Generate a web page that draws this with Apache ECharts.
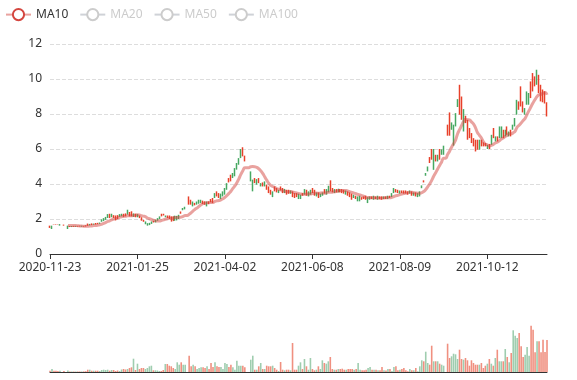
<!DOCTYPE html>
<html>
<head>
<meta charset="utf-8">
<script src="https://cdn.jsdelivr.net/npm/echarts@6/dist/echarts.min.js"></script>
<style>html,body{margin:0;padding:0;background:#fff;}#main{width:577px;height:380px;}</style>
</head>
<body>
<div id="main"></div>
<script>
// ---- DATA ----
const dates = [
'2020-11-23','2020-11-24','2020-11-25','2020-11-26','2020-11-27','2020-11-30',
'2020-12-01','2020-12-02','2020-12-03','2020-12-04','2020-12-07','2020-12-08','2020-12-09','2020-12-10','2020-12-11','2020-12-14','2020-12-15','2020-12-16','2020-12-17','2020-12-18','2020-12-21','2020-12-22','2020-12-23','2020-12-24','2020-12-25','2020-12-28','2020-12-29','2020-12-30','2020-12-31',
'2021-01-04','2021-01-05','2021-01-06','2021-01-07','2021-01-08','2021-01-11','2021-01-12','2021-01-13','2021-01-14','2021-01-15','2021-01-18','2021-01-19','2021-01-20','2021-01-21','2021-01-22','2021-01-25','2021-01-26','2021-01-27','2021-01-28','2021-01-29',
'2021-02-01','2021-02-02','2021-02-03','2021-02-04','2021-02-05','2021-02-08','2021-02-09','2021-02-10','2021-02-18','2021-02-19','2021-02-22','2021-02-23','2021-02-24','2021-02-25','2021-02-26',
'2021-03-01','2021-03-02','2021-03-03','2021-03-04','2021-03-05','2021-03-08','2021-03-09','2021-03-10','2021-03-11','2021-03-12','2021-03-15','2021-03-16','2021-03-17','2021-03-18','2021-03-19','2021-03-22','2021-03-23','2021-03-24','2021-03-25','2021-03-26','2021-03-29','2021-03-30','2021-03-31',
'2021-04-01','2021-04-02','2021-04-05','2021-04-06','2021-04-07','2021-04-08','2021-04-09','2021-04-12','2021-04-13','2021-04-14','2021-04-15','2021-04-16','2021-04-19','2021-04-20','2021-04-21','2021-04-22','2021-04-23','2021-04-26','2021-04-27','2021-04-28','2021-04-29','2021-04-30',
'2021-05-06','2021-05-07','2021-05-10','2021-05-11','2021-05-12','2021-05-13','2021-05-14','2021-05-17','2021-05-18','2021-05-19','2021-05-20','2021-05-21','2021-05-24','2021-05-25','2021-05-26','2021-05-27','2021-05-28','2021-05-31',
'2021-06-01','2021-06-02','2021-06-03','2021-06-04','2021-06-07','2021-06-08','2021-06-09','2021-06-10','2021-06-11','2021-06-14','2021-06-15','2021-06-16','2021-06-17','2021-06-18','2021-06-21','2021-06-22','2021-06-23','2021-06-24','2021-06-25','2021-06-28','2021-06-29','2021-06-30',
'2021-07-01','2021-07-02','2021-07-05','2021-07-06','2021-07-07','2021-07-08','2021-07-09','2021-07-12','2021-07-13','2021-07-14','2021-07-15','2021-07-16','2021-07-19','2021-07-20','2021-07-21','2021-07-22','2021-07-23','2021-07-26','2021-07-27','2021-07-28','2021-07-29','2021-07-30',
'2021-08-02','2021-08-03','2021-08-04','2021-08-05','2021-08-06','2021-08-09','2021-08-10','2021-08-11','2021-08-12','2021-08-13','2021-08-16','2021-08-17','2021-08-18','2021-08-19','2021-08-20','2021-08-23','2021-08-24','2021-08-25','2021-08-26','2021-08-27','2021-08-30','2021-08-31',
'2021-09-01','2021-09-02','2021-09-03','2021-09-06','2021-09-07','2021-09-08','2021-09-09','2021-09-10','2021-09-13','2021-09-14','2021-09-15','2021-09-16','2021-09-17','2021-09-22','2021-09-23','2021-09-24','2021-09-27','2021-09-28','2021-09-29','2021-09-30',
'2021-10-01','2021-10-04','2021-10-05','2021-10-06','2021-10-07','2021-10-08','2021-10-11','2021-10-12','2021-10-13','2021-10-14','2021-10-15','2021-10-18','2021-10-19','2021-10-20','2021-10-21','2021-10-22','2021-10-25','2021-10-26','2021-10-27','2021-10-28','2021-10-29',
'2021-11-01','2021-11-02','2021-11-03','2021-11-04','2021-11-05','2021-11-08','2021-11-09','2021-11-10','2021-11-11','2021-11-12','2021-11-15','2021-11-16','2021-11-17','2021-11-18','2021-11-19','2021-11-22','2021-11-23'
];

// rows: [close, open, low, high]; null = no candle
const prices = [
[1.52,1.60,1.49,1.62],[1.60,1.47,1.43,1.62],[1.67,1.69,1.67,1.69],[1.68,1.70,1.67,1.70],[1.68,1.70,1.68,1.70],
[1.70,1.64,1.62,1.71],null,[1.63,1.67,1.62,1.68],null,[1.60,1.50,1.43,1.62],
[1.55,1.59,1.54,1.60],[1.59,1.56,1.54,1.60],[1.56,1.60,1.55,1.61],[1.60,1.57,1.55,1.61],[1.57,1.60,1.56,1.61],
[1.58,1.61,1.57,1.62],[1.61,1.58,1.56,1.62],[1.57,1.60,1.56,1.61],[1.58,1.63,1.57,1.64],[1.62,1.70,1.61,1.74],
[1.70,1.65,1.63,1.72],[1.66,1.72,1.65,1.75],[1.72,1.69,1.67,1.74],[1.69,1.74,1.68,1.77],[1.72,1.76,1.70,1.78],
[1.78,1.74,1.72,1.80],[1.95,1.86,1.84,1.98],[2.02,1.92,1.88,2.05],[2.08,1.98,1.95,2.12],[2.25,2.10,2.06,2.28],
[2.08,2.25,2.05,2.30],[2.28,2.14,2.10,2.30],[2.10,2.18,2.06,2.22],[1.95,2.15,1.92,2.20],[2.05,2.18,2.00,2.22],
[2.25,2.15,2.12,2.28],[2.28,2.18,2.15,2.30],[2.15,2.26,2.12,2.30],[2.18,2.28,2.15,2.32],[2.48,2.30,2.25,2.53],
[2.20,2.35,2.15,2.40],[2.20,2.38,2.15,2.44],[2.30,2.18,2.12,2.32],[2.15,2.25,2.10,2.30],[2.26,2.16,2.10,2.28],
[2.08,2.16,2.05,2.20],[1.94,2.06,1.90,2.10],[1.86,1.92,1.84,1.95],[1.84,1.74,1.70,1.86],[1.74,1.66,1.62,1.76],
[1.76,1.68,1.65,1.78],[1.84,1.76,1.72,1.86],[1.82,1.88,1.80,1.90],[1.93,1.84,1.80,1.95],[2.03,1.93,1.90,2.05],
[2.13,2.03,2.00,2.15],[2.18,2.26,2.15,2.30],[2.22,2.27,2.20,2.30],[2.18,2.12,2.10,2.20],[2.08,2.16,2.05,2.20],
[2.03,2.15,2.00,2.20],[1.88,2.10,1.85,2.15],[1.92,2.10,1.88,2.15],[2.15,1.95,1.90,2.19],[2.12,1.98,1.92,2.18],
[2.20,2.04,2.00,2.24],[2.31,2.40,2.30,2.43],[2.62,2.52,2.50,2.63],[2.68,2.58,2.55,2.70],null,
[2.85,3.20,2.82,3.29],[2.85,3.05,2.82,3.10],[2.95,2.78,2.72,3.00],[2.82,2.90,2.78,2.92],[2.95,2.86,2.82,3.00],
[3.05,2.92,2.87,3.10],[3.05,2.96,2.91,3.10],[2.92,3.02,2.85,3.05],[2.88,2.98,2.82,3.01],[2.98,2.85,2.72,3.00],
[2.86,2.96,2.85,3.01],[2.95,3.08,2.95,3.14],[2.95,3.14,2.91,3.20],[3.45,3.25,3.20,3.48],[3.32,3.52,3.29,3.58],
[3.22,3.42,3.20,3.48],[3.42,3.22,3.14,3.45],[3.52,3.33,3.29,3.58],[3.72,3.45,3.39,3.77],[4.00,3.72,3.67,4.05],
[4.10,4.30,4.09,4.34],[4.18,4.48,4.15,4.53],[4.60,4.38,4.34,4.63],[4.85,4.50,4.44,4.91],[5.15,4.86,4.82,5.20],
[5.42,5.14,5.10,5.48],[5.95,5.52,5.48,6.00],[5.65,6.05,5.58,6.10],[5.32,5.55,5.29,5.62],null,
null,[4.65,4.22,4.15,4.72],[4.20,3.65,3.58,4.25],[4.05,4.25,4.05,4.34],[4.25,4.00,3.96,4.28],
[4.08,4.30,4.05,4.34],[4.02,3.90,3.86,4.05],[3.90,4.02,3.86,4.09],[4.05,3.90,3.86,4.15],[3.72,3.90,3.67,3.96],
[3.55,3.80,3.48,3.86],[3.40,3.62,3.39,3.67],[3.55,3.30,3.25,3.58],[3.62,3.80,3.58,3.86],[3.55,3.70,3.52,3.77],
[3.66,3.52,3.48,3.67],[3.65,3.80,3.63,3.86],[3.50,3.70,3.48,3.77],[3.70,3.55,3.48,3.72],[3.40,3.58,3.39,3.67],
[3.48,3.62,3.44,3.67],[3.62,3.48,3.44,3.63],[3.30,3.48,3.25,3.58],[3.25,3.40,3.20,3.48],[3.30,3.42,3.25,3.48],
[3.42,3.18,3.14,3.45],[3.38,3.20,3.14,3.39],[3.35,3.45,3.33,3.48],[3.68,3.45,3.39,3.71],[3.42,3.62,3.33,3.67],
[3.55,3.38,3.29,3.58],[3.65,3.45,3.39,3.67],[3.55,3.72,3.48,3.77],[3.40,3.62,3.33,3.67],[3.50,3.32,3.29,3.52],
[3.25,3.45,3.20,3.52],[3.45,3.32,3.25,3.45],[3.50,3.38,3.33,3.52],[3.50,3.68,3.45,3.71],[3.65,3.45,3.39,3.71],
[3.85,3.60,3.52,3.90],[3.62,3.90,3.58,4.21],[3.58,3.70,3.52,3.77],[3.70,3.55,3.48,3.71],[3.58,3.68,3.52,3.71],
[3.72,3.58,3.52,3.73],[3.58,3.68,3.52,3.71],[3.55,3.68,3.48,3.71],[3.50,3.65,3.45,3.67],[3.62,3.48,3.39,3.63],
[3.40,3.55,3.33,3.58],[3.30,3.48,3.25,3.52],[3.18,3.40,3.10,3.45],[3.38,3.22,3.20,3.39],[3.20,3.30,3.14,3.33],
[3.28,3.08,3.01,3.29],[3.30,3.08,3.01,3.33],[3.12,3.22,3.10,3.25],[3.14,3.25,3.14,3.29],[3.12,3.25,3.10,3.33],
[3.22,3.00,2.91,3.25],[3.28,3.12,3.10,3.29],[3.14,3.25,3.14,3.29],[3.30,3.15,3.10,3.33],[3.14,3.25,3.14,3.29],
[3.30,3.15,3.10,3.33],[3.15,3.25,3.14,3.29],[3.14,3.25,3.10,3.29],[3.27,3.16,3.14,3.29],[3.16,3.26,3.14,3.29],
[3.30,3.18,3.14,3.33],[3.20,3.30,3.20,3.33],[3.45,3.28,3.25,3.48],[3.75,3.55,3.48,3.77],[3.55,3.68,3.52,3.71],
[3.52,3.62,3.48,3.67],[3.62,3.48,3.45,3.63],[3.50,3.60,3.48,3.63],[3.48,3.60,3.45,3.63],[3.48,3.60,3.45,3.63],
[3.40,3.55,3.39,3.58],[3.60,3.48,3.45,3.63],[3.40,3.55,3.33,3.58],[3.50,3.40,3.33,3.52],[3.35,3.48,3.29,3.52],
[3.45,3.30,3.25,3.48],[3.50,3.30,3.29,3.58],[3.90,3.80,3.76,3.92],[4.10,4.18,4.09,4.21],[4.62,4.50,4.47,4.63],
[4.98,4.78,4.72,5.00],[5.22,5.50,5.20,5.54],[5.42,5.95,5.39,6.00],[5.90,4.95,4.81,6.00],[5.32,5.62,5.29,5.67],
[5.65,5.38,5.29,5.67],[5.45,5.95,5.39,6.00],[5.95,5.70,5.67,5.98],[6.15,5.75,5.67,6.19],null,
[6.80,7.30,6.76,7.39],[6.90,7.90,6.76,8.09],[7.50,7.20,7.10,7.52],[7.35,6.30,6.19,7.39],[8.00,7.40,7.29,8.05],
[8.82,8.45,8.40,8.85],[8.10,9.50,7.96,9.67],[7.75,8.85,7.67,9.00],[8.25,7.10,7.00,8.28],[7.50,7.85,7.48,7.90],
[6.60,7.50,6.53,7.67],[6.75,7.05,6.62,7.20],[6.40,6.80,6.34,6.91],[6.20,6.55,6.15,6.62],[5.90,6.40,5.86,6.53],
[6.00,6.40,5.96,6.53],[6.50,6.05,5.96,6.53],[6.15,6.45,6.15,6.53],[6.15,6.35,6.15,6.38],[6.15,6.30,6.15,6.34],
[6.22,6.04,6.00,6.24],[6.05,6.25,6.00,6.29],[6.78,6.30,6.24,6.81],[6.70,7.10,6.62,7.20],[6.72,6.45,6.43,6.72],
[6.45,6.70,6.43,6.72],[7.25,6.70,6.62,7.29],[7.25,6.70,6.62,7.29],[6.70,7.00,6.62,7.10],[7.05,6.72,6.72,7.10],
[6.82,7.20,6.81,7.29],[6.98,6.75,6.72,7.00],[6.75,7.00,6.72,7.10],[7.30,7.12,7.10,7.39],[7.70,7.35,7.29,7.77],
[8.75,8.05,7.96,8.81],[8.25,8.55,8.24,8.72],[8.55,9.40,8.43,9.58],[8.10,8.60,8.09,8.72],[8.30,8.00,7.96,8.34],
[9.20,8.60,8.53,9.29],[9.15,8.60,8.53,9.20],[9.00,9.70,8.91,9.86],[9.40,10.20,9.29,10.34],[9.60,10.05,9.58,10.15],
[10.45,9.75,9.67,10.53],[9.30,10.10,9.20,10.24],[8.80,9.55,8.72,9.67],[8.70,9.30,8.67,9.40],[8.70,9.20,8.60,9.30],
[7.95,8.40,7.86,8.67]
];

// volume (arbitrary units)
const volumes = [
1.2,3,1.3,1.3,1,1.2,0,1,2.3,1.5,
0.5,0.5,0.5,0.5,0.5,0.6,0.5,0.6,0.8,2.3,
2.3,1.3,1.3,1.3,1.3,1,2,2.3,2,2.3,
1.3,2,2,1,1.5,1,2.5,3,2.5,3,
4,4.7,13.3,2,8.3,3,4,4,3,4,
5.7,6.3,1.7,1.7,1.5,1,1,2,8,8,
6.3,5.7,4,3,9.7,7.3,9.7,7.3,7.3,0,
16.3,5.7,7.3,5.7,3,4,4.7,4.7,4,5.7,
3,9,5,9.7,5.7,5,5,3,9,8,
5,7.3,4.7,2.3,11.3,6.3,6.3,6.3,4.7,0,
0,12.3,16.3,2.3,2.3,5.7,9,3,3,6.3,
5.7,5.7,6.3,4,2.3,1,10,2.3,1.7,2.3,
2.3,1.7,29,2.3,2.3,6.3,9.7,3,13,5.7,
2.3,14,3,1.7,2.3,5.7,3,11.7,9,8.3,
10.7,15,3,2.3,2.3,3,3,3.3,2.3,2.3,
3,3,3,2.3,3,9,2.3,1.7,1.7,2.3,
4,5,2.3,2.3,2.3,1.7,1.7,5,1.7,1.5,
3,3,1,5,5.7,1.7,2.3,3,4,1.7,
0.7,3,1.7,1.7,4,0.7,5.7,11.7,10.7,20.3,
9,7.3,26.3,10.7,10.7,10.7,8.3,7.3,6.3,5,
28.3,14,15.7,18.3,17.7,13,22.3,13,12.3,14,
11.7,6.3,11.7,9,7.3,7.3,7.3,9,4,6.3,
8.3,13,8.3,6.3,14,22.3,10.7,10.7,10.7,23,
15,9.7,19,41.7,36.3,34,39,25.7,15,17.3,
25,16.3,46.3,42.3,19.7,30.7,30.7,19.7,32.3,20,
32
];

const maNames = ['MA10', 'MA20', 'MA50', 'MA100'];
const maDays = [10, 20, 50, 100];
const maColors = ['#d4463f', '#6b8fb5', '#e0a43a', '#8f6bb5'];

// ---- CHART ----
const upColor = '#47a862';    // close > open
const downColor = '#e8402a';  // close < open
const upVolColor = '#9fcdaf';
const downVolColor = '#f09080';
const FONT = 'Noto Sans';

function closeOf(r) { return r[0]; }

// moving average over the last n traded days (days without a candle are skipped)
function calcMA(n) {
  const out = [];
  for (let i = 0; i < prices.length; i++) {
    if (i < n - 1) { out.push('-'); continue; }
    let sum = 0, cnt = 0;
    for (let j = i; j >= 0 && cnt < n; j--) {
      const d = prices[j];
      if (d) { sum += closeOf(d); cnt++; }
    }
    out.push(cnt ? +(sum / cnt).toFixed(3) : '-');
  }
  return out;
}

// echarts order: [open, close, lowest, highest]
const candleData = prices.map(r => r ? [r[1], r[0], r[2], r[3]] : ['-', '-', '-', '-']);
const volData = volumes.map((v, i) => {
  const r = prices[i];
  const up = r ? r[0] >= r[1] : true;
  return { value: r ? v : '-', itemStyle: { color: up ? upVolColor : downVolColor } };
});

const chart = echarts.init(document.getElementById('main'), null, { renderer: 'canvas' });
const maSeries = maNames.map((name, k) => ({
  name: name,
  type: 'line',
  data: calcMA(maDays[k]),
  smooth: true,
  symbol: 'emptyCircle',
  showSymbol: false,
  color: maColors[k],
  lineStyle: { width: 3, opacity: 0.5 },
  xAxisIndex: 0,
  yAxisIndex: 0
}));

chart.setOption({
  animation: false,
  textStyle: { fontFamily: FONT },
  legend: {
    left: 0,
    top: 3,
    itemGap: 11,
    data: maNames,
    selected: { MA10: true, MA20: false, MA50: false, MA100: false },
    inactiveColor: '#ccc',
    textStyle: { color: '#333', fontSize: 12, fontFamily: FONT }
  },
  grid: [
    { left: 50, right: 30, top: 44, height: 210 },
    { left: 50, right: 30, top: 300, height: 72 }
  ],
  xAxis: [
    {
      type: 'category', data: dates, boundaryGap: false, gridIndex: 0,
      axisLine: { lineStyle: { color: '#333' } },
      axisTick: { lineStyle: { color: '#333' } },
      axisLabel: { color: '#333', fontSize: 12, interval: 43, fontFamily: FONT },
      splitLine: { show: false }
    },
    {
      type: 'category', data: dates, boundaryGap: false, gridIndex: 1,
      axisLine: { lineStyle: { color: '#333' } },
      axisTick: { show: false },
      axisLabel: { show: false },
      splitLine: { show: false }
    }
  ],
  yAxis: [
    {
      type: 'value', gridIndex: 0, min: 0, max: 12, interval: 2,
      axisLine: { show: false }, axisTick: { show: false },
      axisLabel: { color: '#333', fontSize: 12, fontFamily: FONT },
      splitLine: { lineStyle: { type: 'dashed', color: '#ddd' } }
    },
    {
      type: 'value', gridIndex: 1, min: 0, max: 72,
      axisLine: { show: false }, axisTick: { show: false },
      axisLabel: { show: false }, splitLine: { show: false }
    }
  ],
  series: [
    {
      name: 'K', type: 'candlestick', data: candleData,
      xAxisIndex: 0, yAxisIndex: 0,
      itemStyle: { color: upColor, color0: downColor, borderColor: upColor, borderColor0: downColor, borderWidth: 1.5 }
    }
  ].concat(maSeries).concat([
    {
      name: 'Volume', type: 'bar', data: volData,
      xAxisIndex: 1, yAxisIndex: 1,
      barWidth: 1.6
    }
  ])
});
</script>
</body>
</html>
